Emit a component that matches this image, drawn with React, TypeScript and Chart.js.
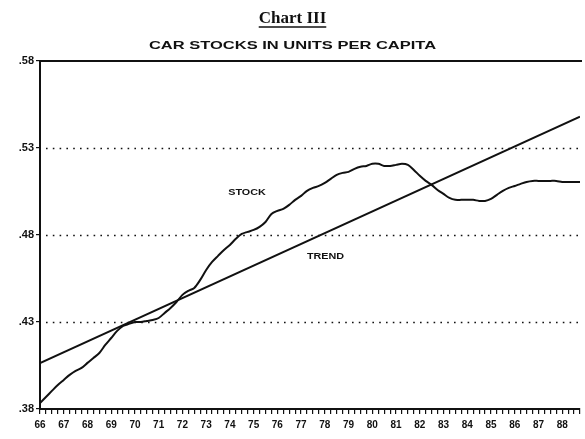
import React, { useEffect, useRef } from 'react';
import { Chart, registerables } from 'chart.js';

Chart.register(...registerables);

// Quarterly car stock per capita, starting 1966 Q1
const stockStartYear = 66;
const stockValues = [
  0.3834, 0.3869, 0.3904, 0.3938, 0.3967, 0.3996, 0.4019, 0.4036,
  0.4065, 0.4093, 0.4122, 0.4168, 0.4208, 0.4249, 0.4277, 0.4289,
  0.4300, 0.4300, 0.4306, 0.4312, 0.4323, 0.4352, 0.4381, 0.4415,
  0.4456, 0.4479, 0.4496, 0.4542, 0.4599, 0.4645, 0.4680, 0.4714,
  0.4743, 0.4778, 0.4806, 0.4818, 0.4829, 0.4847, 0.4875, 0.4921,
  0.4939, 0.4950, 0.4973, 0.5002, 0.5025, 0.5054, 0.5071, 0.5082,
  0.5100, 0.5123, 0.5146, 0.5157, 0.5163, 0.5180, 0.5192, 0.5197,
  0.5209, 0.5209, 0.5197, 0.5197, 0.5203, 0.5209, 0.5203, 0.5174,
  0.5140, 0.5111, 0.5088, 0.5059, 0.5036, 0.5013, 0.5002, 0.5002,
  0.5002, 0.5002, 0.4996, 0.4996, 0.5008, 0.5031, 0.5054, 0.5071,
  0.5082, 0.5094, 0.5105, 0.5111, 0.5111, 0.5111, 0.5111, 0.5111,
  0.5105, 0.5105, 0.5105, 0.5105,
];
const trendYears = [66, 88.75];
const trendValues = [0.4064, 0.548];
const yTickValues = [0.38, 0.43, 0.48, 0.53, 0.58];
const gridValues = [0.43, 0.48, 0.53];
const xMin = 66;
const xMax = 88.75;
const titleText = 'Chart III';
const subtitleText = 'CAR STOCKS IN UNITS PER CAPITA';
const seriesLabels = [
  { text: 'STOCK', x: 74.72, y: 0.5042 },
  { text: 'TREND', x: 78.03, y: 0.4674 },
];

const decorPlugin = {
  id: 'decor',
  beforeDatasetsDraw(chart: any) {
    const { ctx, chartArea } = chart;
    const ys = chart.scales.y;
    ctx.save();
    ctx.strokeStyle = '#111';
    ctx.lineWidth = 1.6;
    ctx.setLineDash([1.6, 5.2]);
    gridValues.forEach((v) => {
      const py = Math.round(ys.getPixelForValue(v)) + 0.5;
      ctx.beginPath();
      ctx.moveTo(chartArea.left + 6, py);
      ctx.lineTo(chartArea.right, py);
      ctx.stroke();
    });
    ctx.setLineDash([]);
    ctx.lineWidth = 2;
    const top = ys.getPixelForValue(yTickValues[yTickValues.length - 1]);
    ctx.beginPath();
    ctx.moveTo(chartArea.left, top);
    ctx.lineTo(chartArea.right + 2, top);
    ctx.stroke();
    ctx.restore();
  },
  afterDraw(chart: any) {
    const { ctx } = chart;
    const cx = chart.width / 2;
    ctx.save();
    ctx.fillStyle = '#111';
    ctx.strokeStyle = '#111';
    ctx.textAlign = 'center';
    ctx.textBaseline = 'alphabetic';
    ctx.font = "bold 17px 'Liberation Serif'";
    ctx.fillText(titleText, cx, 23);
    const w = ctx.measureText(titleText).width;
    ctx.lineWidth = 1.5;
    ctx.beginPath();
    ctx.moveTo(cx - w / 2, 27);
    ctx.lineTo(cx + w / 2, 27);
    ctx.stroke();
    // subtitle: wide, extended bold lettering
    ctx.font = "bold 11px 'Liberation Sans'";
    ctx.textBaseline = 'middle';
    ctx.save();
    ctx.translate(cx, 46);
    ctx.scale(1.5, 1);
    ctx.fillText(subtitleText, 0, 0);
    ctx.restore();
    ctx.font = "bold 9px 'Liberation Sans'";
    seriesLabels.forEach((l) => {
      ctx.save();
      ctx.translate(chart.scales.x.getPixelForValue(l.x), chart.scales.y.getPixelForValue(l.y));
      ctx.scale(1.2, 1);
      ctx.fillText(l.text, 0, 0);
      ctx.restore();
    });
    ctx.restore();
  },
};

export default function App() {
  const ref = useRef<HTMLCanvasElement | null>(null);
  useEffect(() => {
    if (!ref.current) return;
    const stockData = stockValues.map((v, i) => ({ x: stockStartYear + i / 4, y: v }));
    const trendData = trendYears.map((x, i) => ({ x, y: trendValues[i] }));
    const chart = new Chart(ref.current, {
      type: 'line',
      data: {
        datasets: [
          {
            label: 'STOCK',
            data: stockData,
            borderColor: '#111',
            borderWidth: 2,
            pointRadius: 0,
            tension: 0.3,
            fill: false,
          },
          {
            label: 'TREND',
            data: trendData,
            borderColor: '#111',
            borderWidth: 2,
            pointRadius: 0,
            fill: false,
          },
        ],
      },
      options: {
        animation: false,
        responsive: false,
        maintainAspectRatio: false,
        layout: { padding: { top: 61, right: 2, left: 0, bottom: 0 } },
        plugins: {
          legend: { display: false },
          title: { display: false },
          tooltip: { enabled: false },
        },
        scales: {
          x: {
            type: 'linear',
            min: xMin,
            max: xMax,
            afterFit: (s: any) => {
              s.height = 30;
            },
            ticks: {
              stepSize: 0.25,
              autoSkip: false,
              maxTicksLimit: 500,
              maxRotation: 0,
              minRotation: 0,
              padding: 5,
              color: '#111',
              font: { family: "'Liberation Sans'", size: 10, weight: 'bold' },
              callback: (v: any) => (Number.isInteger(v) ? String(v) : ''),
            },
            grid: {
              drawOnChartArea: false,
              drawTicks: true,
              tickLength: 5,
              color: '#111',
              lineWidth: 1.2,
            },
            border: { display: true, color: '#111', width: 2 },
          },
          y: {
            type: 'linear',
            min: 0.38,
            max: 0.58,
            afterFit: (s: any) => {
              s.width = 40;
            },
            afterBuildTicks: (s: any) => {
              s.ticks = yTickValues.map((v) => ({ value: v }));
            },
            ticks: {
              color: '#111',
              padding: 2,
              font: { family: "'Liberation Sans'", size: 11, weight: 'bold' },
              callback: (v: any) => Number(v).toFixed(2).slice(1),
            },
            grid: {
              drawOnChartArea: false,
              drawTicks: true,
              tickLength: 4,
              color: '#111',
              lineWidth: 1.2,
            },
            border: { display: true, color: '#111', width: 2 },
          },
        },
      },
      plugins: [decorPlugin],
    });
    return () => chart.destroy();
  }, []);
  return (
    <div style={{ position: 'absolute', left: 0, top: 0, width: 585, height: 439, background: '#fff' }}>
      <canvas ref={ref} width={585} height={439} style={{ display: 'block', width: 585, height: 439 }} />
    </div>
  );
}
